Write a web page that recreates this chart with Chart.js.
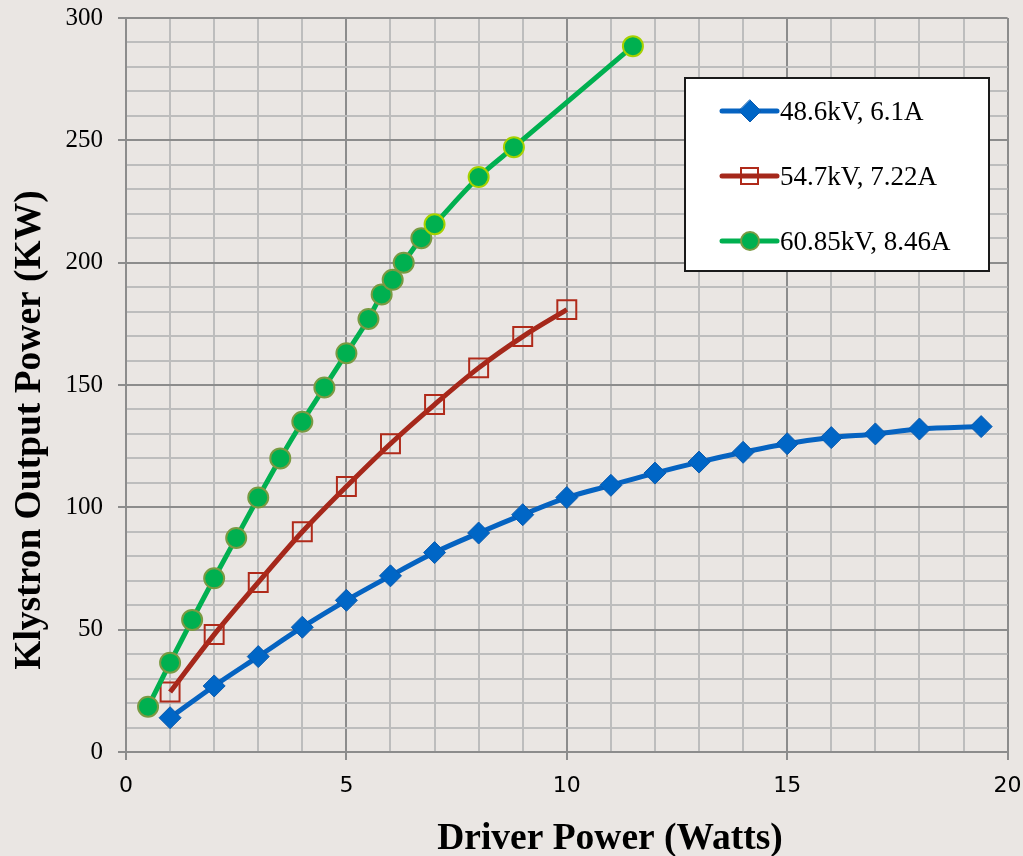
<!DOCTYPE html>
<html>
<head>
    <title>Klystron Output Power vs Driver Power</title>
    <style>
        body { margin: 0; background: #eae6e3; }
        #wrap { position: relative; width: 1023px; height: 856px; }
        #legendBox {
            position: absolute; left: 684px; top: 77px; width: 306px; height: 195px;
            box-sizing: border-box; background: #fff; border: 2px solid #1a1a1a;
        }
        .item {
            position: absolute; left: 33px; height: 30px;
            display: flex; align-items: center;
            font-family: "Liberation Serif", serif; font-size: 27px; color: #000;
        }
    </style>
    <script src="https://cdn.jsdelivr.net/npm/chart.js"></script>
</head>
<body>
<div id="wrap">
    <canvas id="chart" width="1023" height="856"></canvas>
    <div id="legendBox"></div>
</div>

<script>
    // series
    const blueLabel = '48.6kV, 6.1A';
    const blueX = [1, 2, 3, 4, 5, 6, 7, 8, 9, 10, 11, 12, 13, 14, 15, 16, 17, 18, 19.4];
    const blueY = [14, 27, 39, 51, 62, 72, 81.5, 89.5, 97, 104, 109, 114, 118.5, 122.5, 126, 128.5, 130, 132, 133];

    const redLabel = '54.7kV, 7.22A';
    const redX = [1, 2, 3, 4, 5, 6, 7, 8, 9, 10];
    const redY = [24.5, 48, 69.3, 90, 108.5, 126, 142, 157, 169.8, 180.8];

    const greenLabel = '60.85kV, 8.46A';
    const greenX = [0.5, 1, 1.5, 2, 2.5, 3, 3.5, 4, 4.5, 5, 5.5, 5.8, 6.05, 6.3, 6.7, 7, 8, 8.8, 11.5];
    const greenY = [18.5, 36.5, 54, 71, 87.5, 104, 120, 135, 149, 163, 177, 187, 193, 200, 210, 215.7, 235, 247.2, 288.5];

    const xTitle = 'Driver Power (Watts)';
    const yTitle = 'Klystron Output Power (KW)';

    const toPoints = (xs, ys) => xs.map((x, i) => ({ x: x, y: ys[i] }));

    const major = '#8c8c8c';
    const minor = '#bdbdbd';

    // axis titles sit off-centre in the original, so draw them here
    const axisTitles = {
        id: 'axisTitles',
        afterDraw(chart) {
            const ctx = chart.ctx;
            ctx.save();
            ctx.fillStyle = '#000';
            ctx.font = 'bold 37.5px "Liberation Serif"';
            ctx.textAlign = 'center';
            ctx.textBaseline = 'middle';
            ctx.fillText(xTitle, 610, 839);
            ctx.translate(30, 430);
            ctx.rotate(-Math.PI / 2);
            ctx.fillText(yTitle, 0, 0);
            ctx.restore();
        }
    };

    new Chart(document.getElementById('chart'), {
        type: 'scatter',
        data: {
            datasets: [{
                label: blueLabel,
                data: toPoints(blueX, blueY),
                showLine: true,
                borderColor: '#0563c1',
                borderWidth: 5,
                pointStyle: 'rectRot',
                pointRadius: 11,
                pointBackgroundColor: '#0066c6',
                pointBorderColor: '#0a5aae',
                pointBorderWidth: 1,
                cubicInterpolationMode: 'monotone',
                order: 3
            }, {
                label: redLabel,
                data: toPoints(redX, redY),
                showLine: true,
                borderColor: '#a5281b',
                borderWidth: 5,
                pointStyle: 'rect',
                pointRadius: 13.4,
                pointBackgroundColor: 'rgba(0,0,0,0)',
                pointBorderColor: '#b02a1a',
                pointBorderWidth: 2,
                cubicInterpolationMode: 'monotone',
                order: 2
            }, {
                label: greenLabel,
                data: toPoints(greenX, greenY),
                showLine: true,
                borderColor: '#00b050',
                borderWidth: 5,
                pointStyle: 'circle',
                pointRadius: 10,
                pointBackgroundColor: '#00b050',
                pointBorderColor: ctx => ctx.dataIndex >= 15 ? '#a6d100' : '#7a9a42',
                pointBorderWidth: 2,
                cubicInterpolationMode: 'monotone',
                order: 1
            }]
        },
        options: {
            responsive: false,
            animation: false,
            layout: { padding: 0 },
            plugins: {
                legend: { display: false },
                tooltip: { enabled: false }
            },
            scales: {
                x: {
                    type: 'linear',
                    min: 0, max: 20,
                    // pin the plot area: 126..1010 across
                    afterFit: s => { s.height = 104; s.paddingLeft = 0; s.paddingRight = 13; },
                    ticks: {
                        stepSize: 1, autoSkip: false, padding: 13,
                        color: '#000',
                        font: { family: 'DejaVu Sans', size: 22 },
                        maxRotation: 0,
                        callback: v => v % 5 === 0 ? v : ''
                    },
                    grid: {
                        color: c => c.tick && c.tick.value % 5 === 0 ? major : minor,
                        tickColor: c => c.tick && c.tick.value % 5 === 0 ? major : 'rgba(0,0,0,0)',
                        lineWidth: 2,
                        tickLength: 8
                    },
                    border: { color: major, width: 2 }
                },
                y: {
                    min: 0, max: 300,
                    // ... and 18..752 down
                    afterFit: s => { s.width = 126; s.paddingTop = 18; s.paddingBottom = 0; },
                    ticks: {
                        stepSize: 10, autoSkip: false, padding: 15,
                        color: '#000',
                        font: { family: 'Liberation Serif', size: 25 },
                        callback: v => v % 50 === 0 ? v : ''
                    },
                    grid: {
                        color: c => c.tick && c.tick.value % 50 === 0 ? major : minor,
                        tickColor: c => c.tick && c.tick.value % 50 === 0 ? major : 'rgba(0,0,0,0)',
                        lineWidth: 2,
                        tickLength: 8
                    },
                    border: { color: major, width: 2 }
                }
            }
        },
        plugins: [axisTitles]
    });

    // legend: line sample with marker, then the label
    const legendItems = [
        { label: blueLabel, line: '#0563c1', marker: 'diamond', fill: '#0066c6', edge: '#0a5aae' },
        { label: redLabel, line: '#a5281b', marker: 'square', fill: '#ffffff', edge: '#b02a1a' },
        { label: greenLabel, line: '#00b050', marker: 'circle', fill: '#00b050', edge: '#7a9a42' }
    ];
    const box = document.getElementById('legendBox');
    legendItems.forEach((it, i) => {
        const row = document.createElement('div');
        row.className = 'item';
        row.style.top = (17 + i * 65) + 'px';
        const c = document.createElement('canvas');
        c.width = 61; c.height = 30;
        const g = c.getContext('2d');
        g.strokeStyle = it.line; g.lineWidth = 5; g.lineCap = 'round';
        g.beginPath(); g.moveTo(3, 15); g.lineTo(58, 15); g.stroke();
        g.fillStyle = it.fill; g.strokeStyle = it.edge;
        if (it.marker === 'diamond') {
            g.lineWidth = 1;
            g.beginPath(); g.moveTo(31, 4); g.lineTo(42, 15); g.lineTo(31, 26); g.lineTo(20, 15); g.closePath();
            g.fill(); g.stroke();
        } else if (it.marker === 'square') {
            g.lineWidth = 2;
            g.fillRect(22, 7, 17, 16); g.strokeRect(22, 7, 17, 16);
            g.strokeStyle = it.line; g.lineWidth = 5;
            g.beginPath(); g.moveTo(23, 15); g.lineTo(38, 15); g.stroke();
        } else {
            g.lineWidth = 2;
            g.beginPath(); g.arc(31, 15, 9, 0, Math.PI * 2); g.fill(); g.stroke();
        }
        row.appendChild(c);
        const t = document.createElement('span');
        t.textContent = it.label;
        row.appendChild(t);
        box.appendChild(row);
    });
</script>
</body>
</html>
